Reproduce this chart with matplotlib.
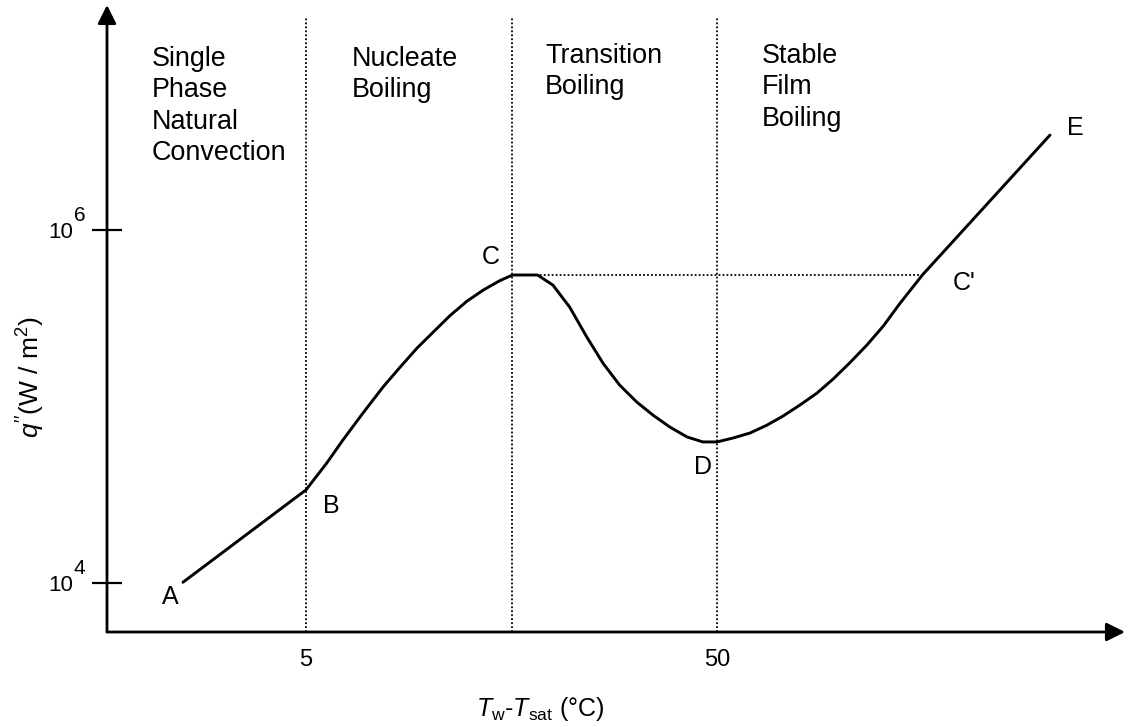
import matplotlib
matplotlib.use("Agg")
import matplotlib.pyplot as plt
import matplotlib.transforms as mtransforms

plt.rcParams['font.family'] = ['Liberation Sans', 'DejaVu Sans']
plt.rcParams['mathtext.fontset'] = 'custom'
plt.rcParams['mathtext.rm'] = 'Liberation Sans'
plt.rcParams['mathtext.it'] = 'Liberation Sans:italic'
plt.rcParams['mathtext.bf'] = 'Liberation Sans:bold'

# ---- data ----
dT = [2.51, 5.0, 5.62, 6.15, 6.88, 7.70, 8.47, 9.31, 10.2, 11.2, 12.3, 13.5,
      14.8, 15.9, 18.3, 19.95, 21.9, 24.1, 26.4, 29.0, 31.9, 34.9, 38.4, 42.3,
      46.2, 50.0, 54.7, 60.2, 66.2, 72.4, 79.6, 87.5, 95.8, 105.0, 115.8,
      127.0, 139.0, 158.0, 323.0]
q = [1.01e4, 3.37e4, 4.79e4, 6.46e4, 9.18e4, 1.29e5, 1.67e5, 2.14e5, 2.64e5,
     3.27e5, 3.94e5, 4.57e5, 5.16e5, 5.56e5, 5.56e5, 4.87e5, 3.66e5, 2.48e5,
     1.76e5, 1.32e5, 1.06e5, 8.95e4, 7.65e4, 6.72e4, 6.30e4, 6.30e4, 6.63e4,
     7.08e4, 7.85e4, 8.83e4, 1.02e5, 1.19e5, 1.43e5, 1.76e5, 2.23e5, 2.86e5,
     3.81e5, 5.56e5, 3.45e6]

regime_bounds = [5.0, 15.9, 50.0]
q_chf = 5.56e5
dT_C, dT_Cp = 15.9, 158.0
region_labels = ["Single\nPhase\nNatural\nConvection", "Nucleate\nBoiling",
                 "Transition\nBoiling", "Stable\nFilm\nBoiling"]
point_labels = ["A", "B", "C", "D", "C'", "E"]
xtick_vals = [5, 50]
xtick_labels = ["5", "50"]
ytick_vals = [1e4, 1e6]
ytick_exps = ["4", "6"]

W, H = 1130, 727
fig = plt.figure(figsize=(W / 100, H / 100), dpi=100)
ax = fig.add_axes([107 / W, (H - 632) / H, (1125 - 107) / W, (632 - 5) / H])
ax.set_xscale('log')
ax.set_yscale('log')
ax.set_xlim(1.640, 491.7)
ax.set_ylim(5278, 1.883e7)

for s in ax.spines.values():
    s.set_visible(False)

# axes with arrows
for end in [(0, 1), (1, 0)]:
    ax.annotate('', xy=end, xytext=(0, 0), xycoords='axes fraction',
                arrowprops=dict(arrowstyle='-|>', lw=2.0, color='k',
                                mutation_scale=28, shrinkA=0, shrinkB=0))

# boiling curve
ax.plot(dT, q, color='k', lw=2.1, solid_joinstyle='round', solid_capstyle='round')

# regime boundaries
ytop = 1.61e7
for xb in regime_bounds:
    ax.plot([xb, xb], [5278, ytop], color='k', lw=1.3, ls=(0, (1, 1.2)))
ax.plot([dT_C, dT_Cp], [q_chf, q_chf], color='k', lw=1.3, ls=(0, (1, 1.2)))

# ticks
ax.set_xticks(xtick_vals)
ax.set_xticklabels(xtick_labels)
ax.xaxis.set_minor_locator(matplotlib.ticker.NullLocator())
ax.yaxis.set_minor_locator(matplotlib.ticker.NullLocator())
ax.tick_params(axis='x', length=0, pad=12, labelsize=17)
ax.set_yticks(ytick_vals)
ax.set_yticklabels([])
ax.tick_params(axis='y', direction='inout', length=22, width=1.6)

blend = mtransforms.blended_transform_factory(ax.transAxes, ax.transData)
for val, e in zip(ytick_vals, ytick_exps):
    ax.annotate("10", xy=(0, val), xycoords=blend, xytext=(-34, -2),
                textcoords='offset pixels', ha='right', va='center', fontsize=16)
    ax.annotate(e, xy=(0, val), xycoords=blend, xytext=(-33, 15),
                textcoords='offset pixels', ha='left', va='center', fontsize=15)

# axis labels
fig.text(540 / W, 1 - 709 / H, r"$T_{\mathrm{w}}$-$T_{\mathrm{sat}}$ (°C)",
         ha='center', va='center', fontsize=18)
fig.text(31 / W, 1 - 377 / H, r"$q''$(W / m$^{2}$)", rotation=90,
         ha='center', va='center', fontsize=19)

# region labels
region_pos = [(152, 46), (352, 46), (545, 43), (762, 43)]
for (px, py), t in zip(region_pos, region_labels):
    fig.text(px / W, 1 - py / H, t, ha='left', va='top', fontsize=19.4,
             linespacing=1.27)

# point labels
point_pos = [(170, 597), (331, 506), (491, 257), (703, 467), (964, 283), (1075, 128)]
for (px, py), t in zip(point_pos, point_labels):
    fig.text(px / W, 1 - py / H, t, ha='center', va='center', fontsize=18)

fig.savefig("out.png", dpi=100)
